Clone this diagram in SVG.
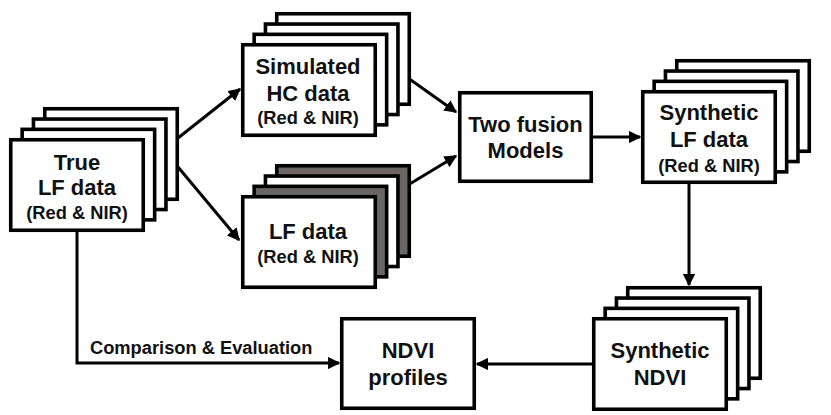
<svg xmlns="http://www.w3.org/2000/svg" width="831" height="415" viewBox="0 0 831 415">
<style>
.card{fill:#fff;stroke:#000;stroke-width:3.6}
.gray{fill:#6b6566;stroke:#000;stroke-width:3.6}
.t{font-family:"Liberation Sans",Arial,sans-serif;font-weight:bold;font-size:22px;text-anchor:middle;fill:#111}
.s{font-family:"Liberation Sans",Arial,sans-serif;font-weight:bold;font-size:18.3px;text-anchor:middle;fill:#111}
.lbl{font-family:"Liberation Sans",Arial,sans-serif;font-weight:bold;font-size:18.3px;fill:#111}
.c{fill:none;stroke:#000;stroke-width:3}
</style>
<defs>
<marker id="ah" viewBox="0 0 10 10" refX="9" refY="5" markerWidth="4.2" markerHeight="4.2" markerUnits="strokeWidth" orient="auto">
<path d="M0,0 L10,5 L0,10 z" fill="#000"/>
</marker>
</defs>
<g id="connectors">
<path class="c" d="M178,138 L240,89" marker-end="url(#ah)"/>
<path class="c" d="M178,167 L239,240" marker-end="url(#ah)"/>
<path class="c" d="M408,78 L456,112" marker-end="url(#ah)"/>
<path class="c" d="M408,185 L456,156" marker-end="url(#ah)"/>
<path class="c" d="M593,137 L640,137" marker-end="url(#ah)"/>
<path class="c" d="M689,183 L689,285" marker-end="url(#ah)"/>
<path class="c" d="M592,364 L477,364" marker-end="url(#ah)"/>
<path class="c" d="M77,232 L77,363 L339,363" marker-end="url(#ah)"/>
<text class="lbl" x="90" y="354">Comparison &amp; Evaluation</text>
</g>
<g id="true-lf">
<rect class="card" x="44.75" y="108.75" width="132.5" height="90.5"/>
<rect class="card" x="33.45" y="119.05" width="132.5" height="90.5"/>
<rect class="card" x="22.15" y="129.35" width="132.5" height="90.5"/>
<rect class="card" x="10.75" y="139.75" width="132.5" height="90.5"/>
<text class="t" x="77" y="170">True</text>
<text class="t" x="77" y="195">LF data</text>
<text class="s" x="77" y="219">(Red &amp; NIR)</text>
</g>
<g id="simulated-hc">
<rect class="card" x="276.75" y="13.75" width="132.5" height="90.5"/>
<rect class="card" x="265.45" y="24.05" width="132.5" height="90.5"/>
<rect class="card" x="254.15" y="34.35" width="132.5" height="90.5"/>
<rect class="card" x="242.75" y="44.75" width="132.5" height="90.5"/>
<text class="t" x="308" y="74">Simulated</text>
<text class="t" x="308" y="101">HC data</text>
<text class="s" x="308" y="124">(Red &amp; NIR)</text>
</g>
<g id="lf-data">
<rect class="gray" x="276.75" y="165.75" width="132.5" height="90.5"/>
<rect class="card" x="265.45" y="176.05" width="132.5" height="90.5"/>
<rect class="gray" x="254.15" y="186.35" width="132.5" height="90.5"/>
<rect class="card" x="242.75" y="196.75" width="132.5" height="90.5"/>
<text class="t" x="308" y="239">LF data</text>
<text class="s" x="308" y="263">(Red &amp; NIR)</text>
</g>
<g id="fusion">
<rect class="card" x="459.75" y="92.75" width="131.5" height="88.5"/>
<text class="t" x="525.5" y="132">Two fusion</text>
<text class="t" x="525.5" y="158">Models</text>
</g>
<g id="synthetic-lf">
<rect class="card" x="676.75" y="60.75" width="132.5" height="90.5"/>
<rect class="card" x="665.45" y="71.05" width="132.5" height="90.5"/>
<rect class="card" x="654.15" y="81.35" width="132.5" height="90.5"/>
<rect class="card" x="642.75" y="91.75" width="132.5" height="90.5"/>
<text class="t" x="709" y="120">Synthetic</text>
<text class="t" x="709" y="147">LF data</text>
<text class="s" x="709" y="172">(Red &amp; NIR)</text>
</g>
<g id="synthetic-ndvi">
<rect class="card" x="627.75" y="287.75" width="132.5" height="90.5"/>
<rect class="card" x="616.45" y="298.05" width="132.5" height="90.5"/>
<rect class="card" x="605.15" y="308.35" width="132.5" height="90.5"/>
<rect class="card" x="593.75" y="318.75" width="132.5" height="90.5"/>
<text class="t" x="660" y="358">Synthetic</text>
<text class="t" x="660" y="385">NDVI</text>
</g>
<g id="ndvi-profiles">
<rect class="card" x="341.75" y="318.75" width="132.5" height="89.5"/>
<text class="t" x="408" y="358">NDVI</text>
<text class="t" x="408" y="385">profiles</text>
</g>
</svg>
